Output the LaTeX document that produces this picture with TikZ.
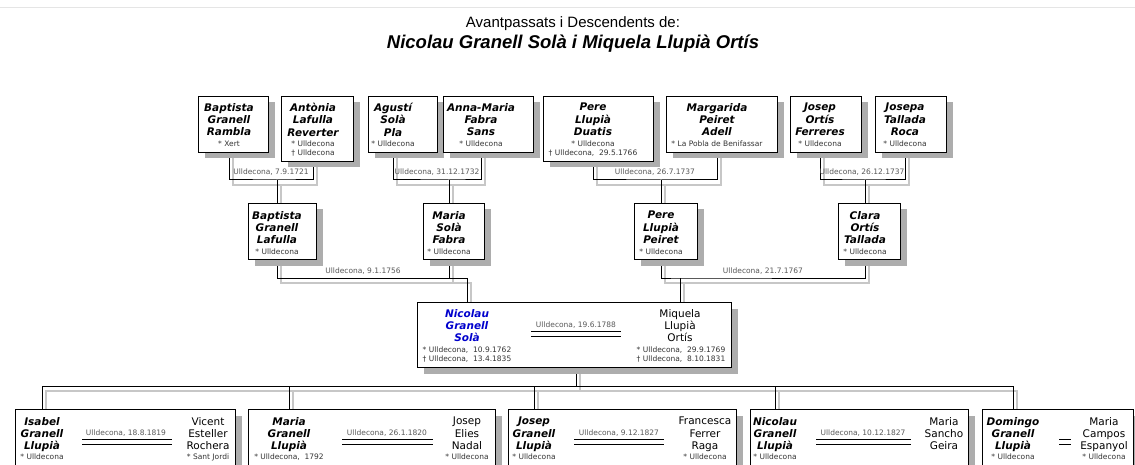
\documentclass[tikz,border=0pt]{standalone}
\usepackage{fontspec}
\usetikzlibrary{shadows,backgrounds}
\newfontfamily\vfont{DejaVu Sans}[BoldFont={DejaVu Sans Bold},ItalicFont={DejaVu Sans Oblique},BoldItalicFont={DejaVu Sans Bold Oblique}]
\newfontfamily\afont{Liberation Sans}
\definecolor{selblue}{RGB}{0,0,205}

\tikzset{
pbox/.style={draw, line width=1pt, fill=white, anchor=north west, inner sep=0pt,
	drop shadow={opacity=1, fill=black!32, shadow xshift=6pt, shadow yshift=-6pt}},
nom/.style={font=\vfont\bfseries\itshape\fontsize{10.5}{12.3}\selectfont, align=center, inner sep=0pt, anchor=north},
consort/.style={font=\vfont\fontsize{10.5}{12.3}\selectfont, align=center, inner sep=0pt, anchor=north},
dates/.style={font=\vfont\fontsize{7.5}{9}\selectfont, text=black!80, align=center, inner sep=0pt, anchor=north},
wedding/.style={font=\vfont\fontsize{7.5}{9}\selectfont, text=black!65, inner sep=0pt},
cline/.style={draw=black, line width=1pt},
cshade/.style={draw=black!22, line width=1.2pt, transform canvas={xshift=4pt, yshift=-5pt}},
bar/.style={line width=0.9pt}
}

\begin{document}
\begin{tikzpicture}[x=1pt, y=-1pt]
\useasboundingbox (0,0) rectangle (1135,465);
\draw[black!10] (0,7) -- (1135,7);

% title
\node[font=\afont\fontsize{15}{18}\selectfont] (title) at (573,24) {Avantpassats i Descendents de:};
\node[font=\afont\bfseries\itshape\fontsize{18.5}{22}\selectfont] (couple) at (573,44) {Nicolau Granell Solà i Miquela Llupià Ortís};

\coordinate (yG) at (0,180);
\coordinate (yP) at (0,278);
\coordinate (yK) at (0,386);

% grandparents
\foreach \id/\xl/\xr/\yb/\cx/\nm/\dd in {
	A/198/268/152/229/{Baptista\\Granell\\Rambla}/{* Xert},
	B/281/353/161/313/{Antònia\\Lafulla\\Reverter}/{* Ulldecona\\† Ulldecona},
	C/368/437/152/393/{Agustí\\Solà\\Pla}/{* Ulldecona},
	D/443/533/152/481/{Anna-Maria\\Fabra\\Sans}/{* Ulldecona},
	E/543/653/161/593/{Pere\\Llupià\\Duatis}/{* Ulldecona\\† Ulldecona,\ \ 29.5.1766},
	F/666/777/152/717/{Margarida\\Peiret\\Adell}/{* La Pobla de Benifassar},
	G/790/861/152/820/{Josep\\Ortís\\Ferreres}/{* Ulldecona},
	H/875/946/152/905/{Josepa\\Tallada\\Roca}/{* Ulldecona}}
{
	\pgfmathsetmacro\bw{\xr-\xl}
	\pgfmathsetmacro\bh{\yb-96}
	\node[pbox, minimum width=\bw pt, minimum height=\bh pt] (g\id) at (\xl,96) {};
	\node[nom] (gn\id) at (\cx,103) {\nm};
	\node[dates] (gd\id) at (\cx,141) {\dd};
}
\foreach \w/\x/\lb in {A/271/{Ulldecona, 7.9.1721}, B/437/{Ulldecona, 31.12.1732}, C/655/{Ulldecona, 26.7.1737}, D/862/{Ulldecona, 26.12.1737}}
	\node[wedding] (w\w) at (\x,172) {\lb};

% parents
\foreach \id/\xl/\xr/\cx/\nm in {
	A/248/316/277/{Baptista\\Granell\\Lafulla},
	B/423/484/449/{Maria\\Solà\\Fabra},
	C/634/697/661/{Pere\\Llupià\\Peiret},
	D/838/900/865/{Clara\\Ortís\\Tallada}}
{
	\pgfmathsetmacro\bw{\xr-\xl}
	\node[pbox, minimum width=\bw pt, minimum height=56pt] (p\id) at (\xl,203) {};
	\node[nom] (pn\id) at (\cx,211) {\nm};
	\node[dates] (pd\id) at (\cx,249) {* Ulldecona};
}
\node[wedding] (wL) at (363,271) {Ulldecona, 9.1.1756};
\node[wedding] (wR) at (763,271) {Ulldecona, 21.7.1767};

% the couple
\node[pbox, minimum width=314pt, minimum height=65pt] (main) at (417,302) {};
\node[nom, text=selblue] (mn) at (467,309) {Nicolau\\Granell\\Solà};
\node[dates] (md) at (467,347) {* Ulldecona,\ \ 10.9.1762\\† Ulldecona,\ \ 13.4.1835};
\node[wedding] (mm) at (576,325) {Ulldecona, 19.6.1788};
\node[consort] (ms) at (680,309) {Miquela\\Llupià\\Ortís};
\node[dates] (mt) at (681,347) {* Ulldecona,\ \ 29.9.1769\\† Ulldecona,\ \ 8.10.1831};

% children
\foreach \id/\xl/\xr/\cx/\nm/\dd/\mx/\lb/\sx/\sn/\sdd in {
	A/15/235/42/{Isabel\\Granell\\Llupià}/{* Ulldecona}/126/{Ulldecona, 18.8.1819}/208/{Vicent\\Esteller\\Rochera}/{* Sant Jordi},
	B/248/495/289/{Maria\\Granell\\Llupià}/{* Ulldecona,\ \ 1792}/387/{Ulldecona, 26.1.1820}/467/{Josep\\Elies\\Nadal}/{* Ulldecona},
	C/508/736/534/{Josep\\Granell\\Llupià}/{* Ulldecona}/619/{Ulldecona, 9.12.1827}/705/{Francesca\\Ferrer\\Raga}/{* Ulldecona},
	D/750/968/775/{Nicolau\\Granell\\Llupià}/{* Ulldecona}/863/{Ulldecona, 10.12.1827}/944/{Maria\\Sancho\\Geira}/{},
	E/982/1133/1013/{Domingo\\Granell\\Llupià}/{* Ulldecona}/1065/{}/1104/{Maria\\Campos\\Espanyol}/{* Ulldecona}}
{
	\pgfmathsetmacro\bw{\xr-\xl}
	\node[pbox, minimum width=\bw pt, minimum height=70pt] (k\id) at (\xl,409) {};
	\node[nom] (kn\id) at (\cx,417) {\nm};
	\node[dates] (kd\id) at (\cx,454) {\dd};
	\node[wedding] (km\id) at (\mx,433) {\lb};
	\node[consort] (ks\id) at (\sx,417) {\sn};
	\node[dates] (kt\id) at (\sx,454) {\sdd};
}

% marriage bars
\foreach \xa/\xb/\yy in {531/621/331, 82/172/439, 342/433/439, 574/664/439, 816/911/439, 1059/1071/439}
	\draw[bar] (\xa,\yy) -- (\xb,\yy) (\xa,\yy+5) -- (\xb,\yy+5);

% lines
\begin{scope}[on background layer]
\fill[white] (0,0) rectangle (1135,465);
\foreach \st in {cshade,cline}
{
	\foreach \fa/\mo/\ch in {A/B/A, C/D/B, E/F/C, G/H/D}
	{
		\draw[\st] (gn\fa |- g\fa.south) |- (pn\ch |- yG) -| (gn\mo |- g\mo.south);
		\draw[\st] (pn\ch |- yG) -- (pn\ch |- p\ch.north);
	}
	\draw[\st] (pnA |- pA.south) |- (mn |- yP) -- (mn |- main.north);
	\draw[\st] (pnB |- pB.south) -- (pnB |- yP);
	\draw[\st] (pnC |- pC.south) |- (ms |- yP) -| (pnD |- pD.south);
	\draw[\st] (ms |- yP) -- (ms |- main.north);
	\draw[\st] (mm |- main.south) -- (mm |- yK);
	\draw[\st] (knA |- kA.north) |- (knE |- yK) -- (knE |- kE.north);
	\foreach \ch in {B,C,D}
		\draw[\st] (kn\ch |- yK) -- (kn\ch |- k\ch.north);
}
\end{scope}
\end{tikzpicture}
\end{document}
